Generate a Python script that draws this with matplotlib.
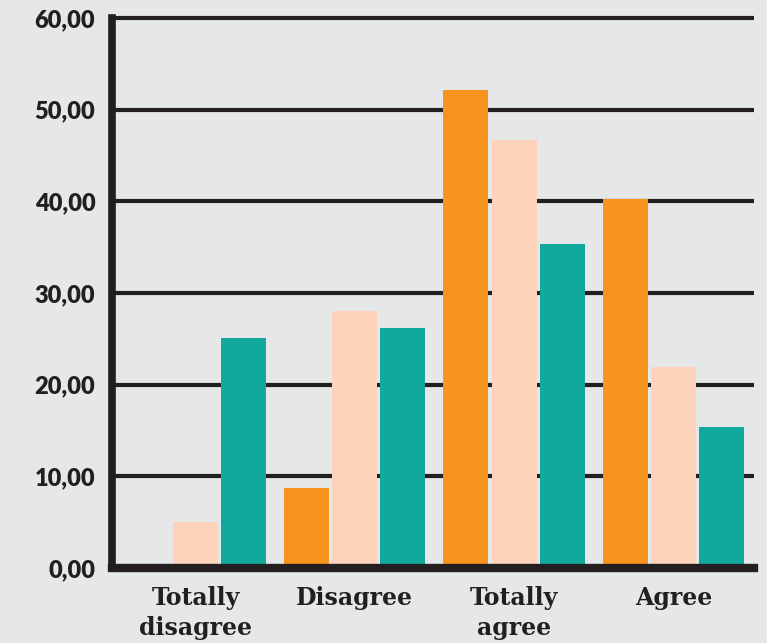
import matplotlib.pyplot as plt
import numpy as np

categories = ['Totally\ndisagree', 'Disagree', 'Totally\nagree', 'Agree']
series_a = [0.0, 8.7, 52.1, 40.3]
series_b = [5.0, 28.0, 46.7, 21.9]
series_c = [25.1, 26.2, 35.4, 15.4]
yticks = [0, 10, 20, 30, 40, 50, 60]
ytick_labels = ['0,00', '10,00', '20,00', '30,00', '40,00', '50,00', '60,00']

bg = '#e6e7e9'
ink = '#231f20'
colors = ['#f7941d', '#fdd3bb', '#12a89d']

fig = plt.figure(figsize=(7.67, 6.43), dpi=100, facecolor=bg)
ax = fig.add_axes([0.146, 0.1166, 0.837, 0.8554], facecolor=bg)

x = np.arange(len(categories))
step = 0.302
width = 0.283
for i, (vals, c) in enumerate(zip([series_a, series_b, series_c], colors)):
    ax.bar(x + (i - 1) * step, vals, width, color=c, zorder=3)

ax.set_xlim(-0.524, 3.506)
ax.set_ylim(0, 60)

for y in yticks[1:]:
    ax.axhline(y, color=ink, lw=3.0, zorder=1, solid_capstyle='butt', clip_on=False)

for s in ['top', 'right']:
    ax.spines[s].set_visible(False)
ax.spines['left'].set_linewidth(5.5)
ax.spines['left'].set_color(ink)
ax.spines['bottom'].set_linewidth(6)
ax.spines['bottom'].set_color(ink)
ax.spines['left'].set_zorder(4)
ax.spines['bottom'].set_zorder(4)

ax.set_yticks(yticks)
ax.set_yticklabels(ytick_labels, fontfamily='Lato', fontweight='heavy', fontsize=17, color=ink)
ax.set_xticks(x)
ax.set_xticklabels(categories, fontfamily='DejaVu Serif', fontweight='bold', fontsize=17,
                   color=ink, linespacing=1.3, va='top')
ax.tick_params(axis='y', length=0, pad=12)
ax.tick_params(axis='x', length=0, pad=13)

fig.savefig('out.png', dpi=100, facecolor=bg)
